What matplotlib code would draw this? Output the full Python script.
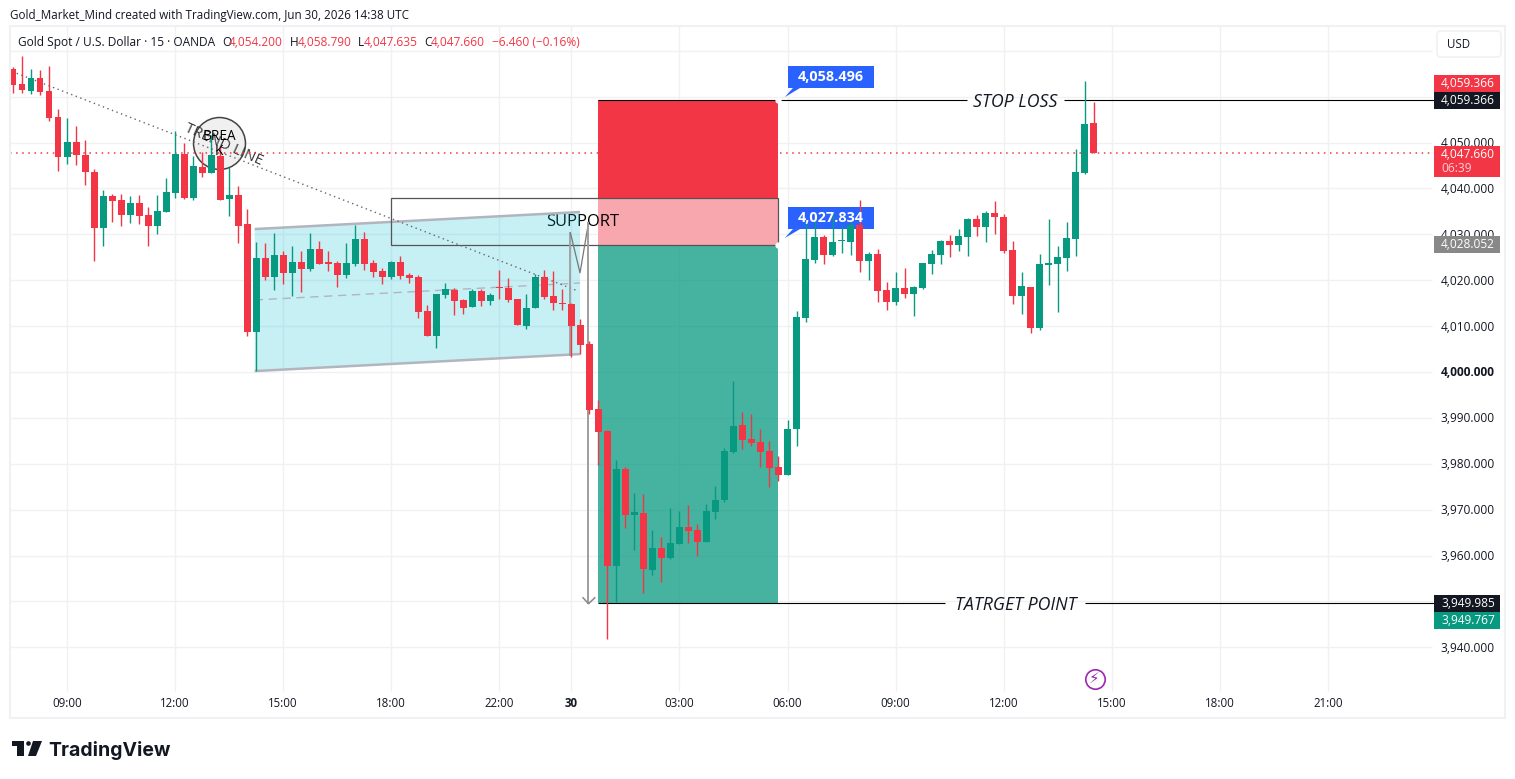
import matplotlib
matplotlib.use("Agg")
import matplotlib.pyplot as plt
from matplotlib.patches import Rectangle, Polygon, Circle, FancyBboxPatch
import numpy as np

plt.rcParams["font.family"] = ["Open Sans", "DejaVu Sans"]

W, H = 1515, 779

# 15 minute candles
opens = [4066.0,4062.7,4061.2,4064.1,4061.2,4055.6,4046.8,4050.1,4047.3,4043.6,
         4031.4,4038.3,4037.5,4034.2,4036.8,4034.2,4031.8,4034.9,4039.0,4047.5,
         4037.9,4044.7,4043.4,4047.1,4037.7,4038.6,4032.2,4008.7,4024.8,4020.7,
         4025.5,4021.6,4024.0,4022.4,4026.8,4023.7,4023.7,4021.1,4023.5,4029.0,
         4023.7,4022.0,4020.7,4024.0,4021.1,4020.7,4013.3,4007.8,4016.8,4017.9,
         4015.7,4014.2,4017.6,4015.5,4018.5,4018.3,4015.9,4010.0,4013.9,4020.7,
         4016.6,4015.0,4014.8,4010.2,4006.2,3991.9,3987.1,3957.7,3978.9,3968.8,
         3969.3,3956.9,3961.7,3959.5,3962.5,3966.2,3965.6,3963.0,3969.5,3972.1,
         3982.6,3988.5,3985.4,3984.7,3982.8,3979.3,3977.6,3987.6,4011.8,4024.4,
         4029.4,4025.5,4028.5,4028.3,4032.0,4024.2,4025.7,4017.9,4015.3,4018.3,
         4017.0,4018.3,4023.5,4025.5,4028.5,4027.7,4029.4,4033.3,4031.6,4034.6,
         4033.8,4026.6,4016.6,4018.5,4009.6,4023.3,4023.5,4024.8,4029.0,4043.4,4054.2]
highs = [4066.4,4068.8,4066.0,4065.8,4066.7,4057.3,4055.3,4053.6,4050.5,4044.2,
         4039.7,4038.8,4038.8,4038.3,4038.6,4035.9,4038.6,4042.3,4052.5,4049.9,
         4047.1,4047.9,4051.6,4049.2,4044.7,4040.5,4035.5,4028.3,4028.1,4030.3,
         4026.4,4027.5,4026.4,4030.3,4028.5,4026.4,4024.2,4028.1,4032.0,4030.5,
         4024.4,4022.7,4024.2,4025.3,4021.6,4021.1,4014.6,4017.0,4019.4,4018.3,
         4015.9,4018.1,4018.1,4017.2,4022.2,4020.5,4015.9,4017.0,4021.4,4022.2,
         4022.0,4018.1,4015.0,4011.5,4006.8,3993.9,3987.4,3980.8,3979.3,3973.6,
         3973.4,3965.6,3964.1,3970.4,3969.7,3971.0,3966.9,3971.2,3975.2,3983.4,
         3998.0,3991.3,3990.8,3987.6,3985.0,3981.7,3989.5,4013.3,4033.1,4033.3,
         4029.8,4034.6,4032.0,4032.9,4037.5,4026.1,4026.8,4019.6,4021.8,4022.7,
         4018.7,4023.7,4026.6,4028.8,4029.8,4031.2,4033.6,4034.2,4035.1,4037.3,
         4034.4,4028.5,4021.8,4018.5,4025.7,4033.3,4027.5,4032.7,4048.6,4063.4,4058.79]
lows = [4060.9,4060.9,4060.6,4060.3,4054.7,4043.8,4045.3,4045.1,4040.7,4024.2,
        4027.5,4032.7,4031.8,4032.5,4032.2,4027.5,4030.1,4034.9,4037.9,4037.7,
        4037.5,4042.5,4043.4,4037.4,4034.0,4028.1,4007.8,4000.2,4020.0,4017.9,
        4019.2,4016.6,4017.4,4022.0,4023.5,4022.0,4018.5,4020.5,4023.1,4022.2,
        4020.7,4019.2,4020.3,4020.3,4019.4,4011.8,4007.8,4005.2,4016.1,4012.4,
        4012.6,4014.2,4014.4,4014.6,4015.9,4015.3,4010.2,4009.4,4013.9,4015.9,
        4013.5,4013.5,4003.3,4003.9,3990.8,3979.7,3941.8,3949.9,3966.0,3961.2,
        3951.9,3955.8,3954.2,3959.3,3962.5,3962.7,3959.9,3963.0,3968.0,3971.7,
        3982.4,3983.2,3983.9,3979.3,3974.9,3976.3,3977.6,3983.9,4010.9,4023.7,
        4023.5,4025.3,4025.9,4025.5,4021.8,4020.0,4015.3,4013.5,4014.6,4016.1,
        4012.2,4018.1,4021.4,4023.5,4025.1,4026.4,4025.3,4029.6,4028.3,4030.1,
        4025.9,4014.8,4012.6,4008.5,4009.2,4019.0,4013.1,4022.0,4025.3,4043.1,4047.635]
closes = [4062.6,4061.4,4064.1,4061.0,4055.3,4046.8,4050.1,4047.3,4043.6,4031.4,
          4038.3,4037.3,4034.2,4036.8,4034.0,4031.8,4035.1,4039.2,4047.5,4037.9,
          4044.9,4043.4,4047.3,4037.5,4038.6,4031.8,4008.7,4024.8,4020.7,4025.5,
          4021.6,4024.0,4022.4,4026.8,4023.5,4023.6,4021.1,4023.7,4029.0,4023.5,
          4021.8,4020.7,4024.0,4020.9,4020.5,4013.1,4007.8,4017.0,4018.1,4015.5,
          4013.9,4017.6,4015.5,4016.8,4018.3,4015.7,4010.2,4013.9,4020.7,4016.3,
          4015.0,4014.8,4010.0,4005.9,3991.7,3986.9,3957.7,3978.9,3968.8,3969.5,
          3957.1,3961.7,3959.5,3962.7,3966.2,3965.4,3963.0,3969.7,3972.1,3982.8,
          3988.2,3985.2,3984.5,3982.6,3979.1,3977.6,3987.6,4012.0,4024.6,4029.4,
          4025.5,4028.3,4028.8,4032.0,4024.2,4025.7,4017.6,4015.3,4018.3,4017.0,
          4018.5,4023.7,4025.7,4028.5,4027.7,4029.6,4033.3,4031.6,4034.6,4033.8,
          4026.4,4016.6,4018.7,4009.6,4023.5,4023.7,4025.1,4029.2,4043.6,4054.0,4047.66]

time_bars = [6, 18, 30, 42, 54, 62, 74, 86, 98, 110, 122, 134, 146]
time_labels = ["09:00", "12:00", "15:00", "18:00", "22:00", "30", "03:00", "06:00",
               "09:00", "12:00", "15:00", "18:00", "21:00"]
grid_prices = list(range(3940, 4080, 10))
tick_prices = list(range(3940, 4060, 10))

stop_price = 4059.25
entry_price = 4027.67
target_price = 3949.67
close_price = 4047.66
box_top = 4037.9

UP = "#089981"
DOWN = "#F23645"
INK = "#131722"
GRID = "#F0F1F3"
BLUE = "#2962FF"

fig = plt.figure(figsize=(W / 100, H / 100), dpi=100, facecolor="white")

# page furniture, in pixel coordinates
chrome = fig.add_axes([0, 0, 1, 1], zorder=2)
chrome.set_xlim(0, W)
chrome.set_ylim(H, 0)
chrome.axis("off")
chrome.add_patch(Rectangle((10, 26), 1495, 692, fc="none", ec=GRID, lw=1.5))
chrome.add_patch(Rectangle((12, 741), 11.5, 5, fc=INK, lw=0))
chrome.add_patch(Rectangle((17, 741), 7, 15, fc=INK, lw=0))
chrome.add_patch(Circle((28.5, 743.5), 2.3, fc=INK, lw=0))
chrome.add_patch(Polygon([(33, 741), (42, 741), (36, 756), (28, 756)], fc=INK, lw=0))
chrome.text(48, 750, "TradingView", fontsize=14, fontweight="bold", family=["Inter", "DejaVu Sans"],
            color=INK, va="center", ha="left")

chrome.text(9.5, 15, "Gold_Market_Mind created with TradingView.com, Jun 30, 2026 14:38 UTC",
            fontsize=8.4, color=INK, va="center")
chrome.text(18, 42, "Gold Spot / U.S. Dollar · 15 · OANDA", fontsize=8.6, color=INK, va="center")
for x, s, c in [(222.5, "O", INK), (229, "4,054.200", DOWN), (290, "H", INK), (298, "4,058.790", DOWN),
                (358, "L", INK), (364, "4,047.635", DOWN), (424.5, "C", INK), (431, "4,047.660", DOWN),
                (492, "−6.460 (−0.16%)", DOWN)]:
    chrome.text(x, 42, s, fontsize=8.6, color=c, va="center")

chrome.add_patch(FancyBboxPatch((1439, 33), 60, 22, boxstyle="round,pad=2,rounding_size=4",
                                fc="white", ec=GRID, lw=1.2))
chrome.text(1447, 44, "USD", fontsize=8.3, color=INK, va="center")

# chart pane: x is the bar number, y is the price
ax = fig.add_axes([10 / W, 1 - 718 / H, 1495 / W, 692 / H], zorder=1)
ax.set_xlim(-0.333, 165.67)
ax.set_ylim(3924.6, 4075.4)
ax.axis("off")
ax.patch.set_alpha(0)

pane_right = 157.56
ax.hlines(grid_prices, -0.333, pane_right, color=GRID, lw=1, zorder=1)
ax.vlines(time_bars, 3930.5, 4075.4, color=GRID, lw=1, zorder=1)

# risk / reward block
pos_left, pos_right = 64.96, 84.94
ax.add_patch(Rectangle((pos_left, box_top), pos_right - pos_left, stop_price - box_top,
                       fc=DOWN, lw=0, zorder=1.5))
ax.add_patch(Rectangle((pos_left, entry_price), pos_right - pos_left, box_top - entry_price,
                       fc="#F9A7AE", lw=0, zorder=1.5))
ax.add_patch(Rectangle((pos_left, target_price), pos_right - pos_left, entry_price - target_price,
                       fc=UP, alpha=0.75, lw=0, zorder=1.5))

# support label sits under the channel fill
ax.text(63.3, 4032.7, "SUPPORT", fontsize=11.9, color="black", ha="center", va="center", zorder=2)

# channel
chan_x = [26.84, 62.96]
chan_top = [4031.15, 4034.86]
chan_bot = [4000.2, 4003.9]
chan_mid = [4015.7, 4019.4]
ax.add_patch(Polygon([(chan_x[0], chan_top[0]), (chan_x[1], chan_top[1]),
                      (chan_x[1], chan_bot[1]), (chan_x[0], chan_bot[0])],
                     fc="#00BCD4", alpha=0.22, lw=0, zorder=3))
ax.plot(chan_x, chan_top, color="#B2B5BE", lw=1.8, zorder=3.1, solid_capstyle="butt")
ax.plot(chan_x, chan_bot, color="#B2B5BE", lw=1.8, zorder=3.1, solid_capstyle="butt")
ax.plot(chan_x, chan_mid, color="#B2B5BE", lw=1.0, ls=(0, (6, 4)), zorder=3.1)

# support box outline
ax.add_patch(Rectangle((41.97, entry_price), pos_right - 41.97, box_top - entry_price,
                       fc="none", ec="#555555", lw=0.9, zorder=3.2))

# trend line and the break marker
ax.plot([22.9], [4049.96], "o", ms=37.4, mfc="#F0F0F0", mec="#444444", mew=1.1, zorder=3.3)
ax.plot([0.41, 62.8], [4065.1, 4017.6], color="#666666", lw=1.0, ls=(0, (1, 2.5)), zorder=3.4)
ax.text(23.4, 4049.6, "TREND LINE", fontsize=10.8, color="#3A3A3A", rotation=-24,
        ha="center", va="center", rotation_mode="anchor", zorder=3.5)

# pointer lines and the measuring arrow
ax.plot([61.9, 61.9], [4003.7, 4030.3], color="#9E9E9E", lw=1.3, zorder=3.6)
ax.plot([61.9, 62.96, 63.9], [4030.3, 4021.6, 4032.5], color="#777777", lw=0.9, zorder=3.6)
ax.plot([63.9, 63.9], [4032.5, target_price], color="#9E9E9E", lw=1.4, zorder=3.6)
ax.plot([63.3, 63.9, 64.6], [3950.8, 3949.5, 3950.8], color="#888888", lw=1.1, zorder=3.6)

# stop and target level lines
seg_end = 157.8
ax.hlines(stop_price, pos_left, 105.93, color="black", lw=0.8, zorder=3.7)
ax.hlines(stop_price, 116.7, seg_end, color="black", lw=0.8, zorder=3.7)
ax.hlines(target_price, pos_left, 103.5, color="black", lw=0.8, zorder=3.7)
ax.hlines(target_price, 119.0, seg_end, color="black", lw=0.8, zorder=3.7)
ax.text(111.3, stop_price - 0.4, "STOP LOSS", fontsize=12.8, style="italic", color=INK,
        ha="center", va="center", zorder=3.8)
ax.text(111.3, target_price - 0.4, "TATRGET POINT", fontsize=12.8, style="italic", color=INK,
        ha="center", va="center", zorder=3.8)

ax.hlines(close_price, -0.333, seg_end, color=DOWN, lw=1.1, ls=(0, (1, 3)), zorder=3.9)

# blue callouts
for top, bot, tip, label in [(4066.67, 4061.9, 4059.9, "4,058.496"), (4035.95, 4031.15, 4029.2, "4,027.834")]:
    ax.add_patch(Rectangle((86.05, bot), 9.55, top - bot, fc=BLUE, lw=0, zorder=4))
    ax.add_patch(Polygon([(86.6, bot), (85.7, tip), (87.4, bot)], fc=BLUE, lw=0, zorder=4))
    ax.text(90.82, (top + bot) / 2, label, fontsize=10.4, fontweight="bold", color="white",
            ha="center", va="center", zorder=7)
ax.plot([pos_right, pos_right], [stop_price, entry_price], "o", ms=3.5, mfc="white", mec="white", zorder=4.1)

# candles
bars = np.arange(len(opens))
o = np.array(opens)
c = np.array(closes)
colors = [UP if b > a else DOWN for a, b in zip(opens, closes)]
ax.vlines(bars, lows, highs, colors=colors, lw=1.0, zorder=6)
ax.bar(bars, np.maximum(np.abs(c - o), 0.3), bottom=np.minimum(o, c), width=0.77,
       color=colors, lw=0, zorder=6)

ax.text(22.9, 4051.3, "BREA", fontsize=9.8, color="black", ha="center", va="center", zorder=7)
ax.text(22.9, 4048.0, "K", fontsize=9.8, color="black", ha="center", va="center", zorder=7)

# axis labels
for p in tick_prices:
    ax.text(164.56, p - 0.2, f"{p:,.3f}", fontsize=8.6, color=INK, ha="right", va="center",
            fontweight="bold" if p == 4000 else "normal", zorder=8)
for b, s in zip(time_bars, time_labels):
    ax.text(b, 3927.7, s, fontsize=8.3, color=INK, ha="center", va="center",
            fontweight="bold" if s == "30" else "normal", zorder=8)

# price badges, lowest priority first
def badge(center, label, face, height=3.7):
    ax.add_patch(Rectangle((157.8, center - height / 2), 7.33, height, fc=face, lw=0, zorder=9))
    ax.text(164.56, center - 0.1, label, fontsize=8.6, color="white", ha="right", va="center", zorder=10)

badge(4062.9, "4,059.366", DOWN)
badge(4059.2, "4,059.366", "#131722")
badge(4027.8, "4,028.052", "#888888")
badge(3949.6, "3,949.985", "#131722")
badge(3945.9, "3,949.767", UP)

ax.add_patch(Rectangle((157.8, 4042.5), 7.33, 6.7, fc=DOWN, lw=0, zorder=9))
ax.text(164.56, 4047.4, "4,047.660", fontsize=8.6, color="white", ha="right", va="center", zorder=10)
ax.text(158.65, 4044.3, "06:39", fontsize=8.6, color="#FFD0D4", ha="left", va="center", zorder=10)

# session break icon
ax.plot([120.1], [3933.2], "o", ms=14, mfc="white", mec="#9C27B0", mew=1.2, zorder=8)
ax.text(120.1, 3933.2, "⚡", fontsize=11, color="#9C27B0", ha="center", va="center",
        family="DejaVu Sans", zorder=9)

fig.savefig("out.png", dpi=100)
